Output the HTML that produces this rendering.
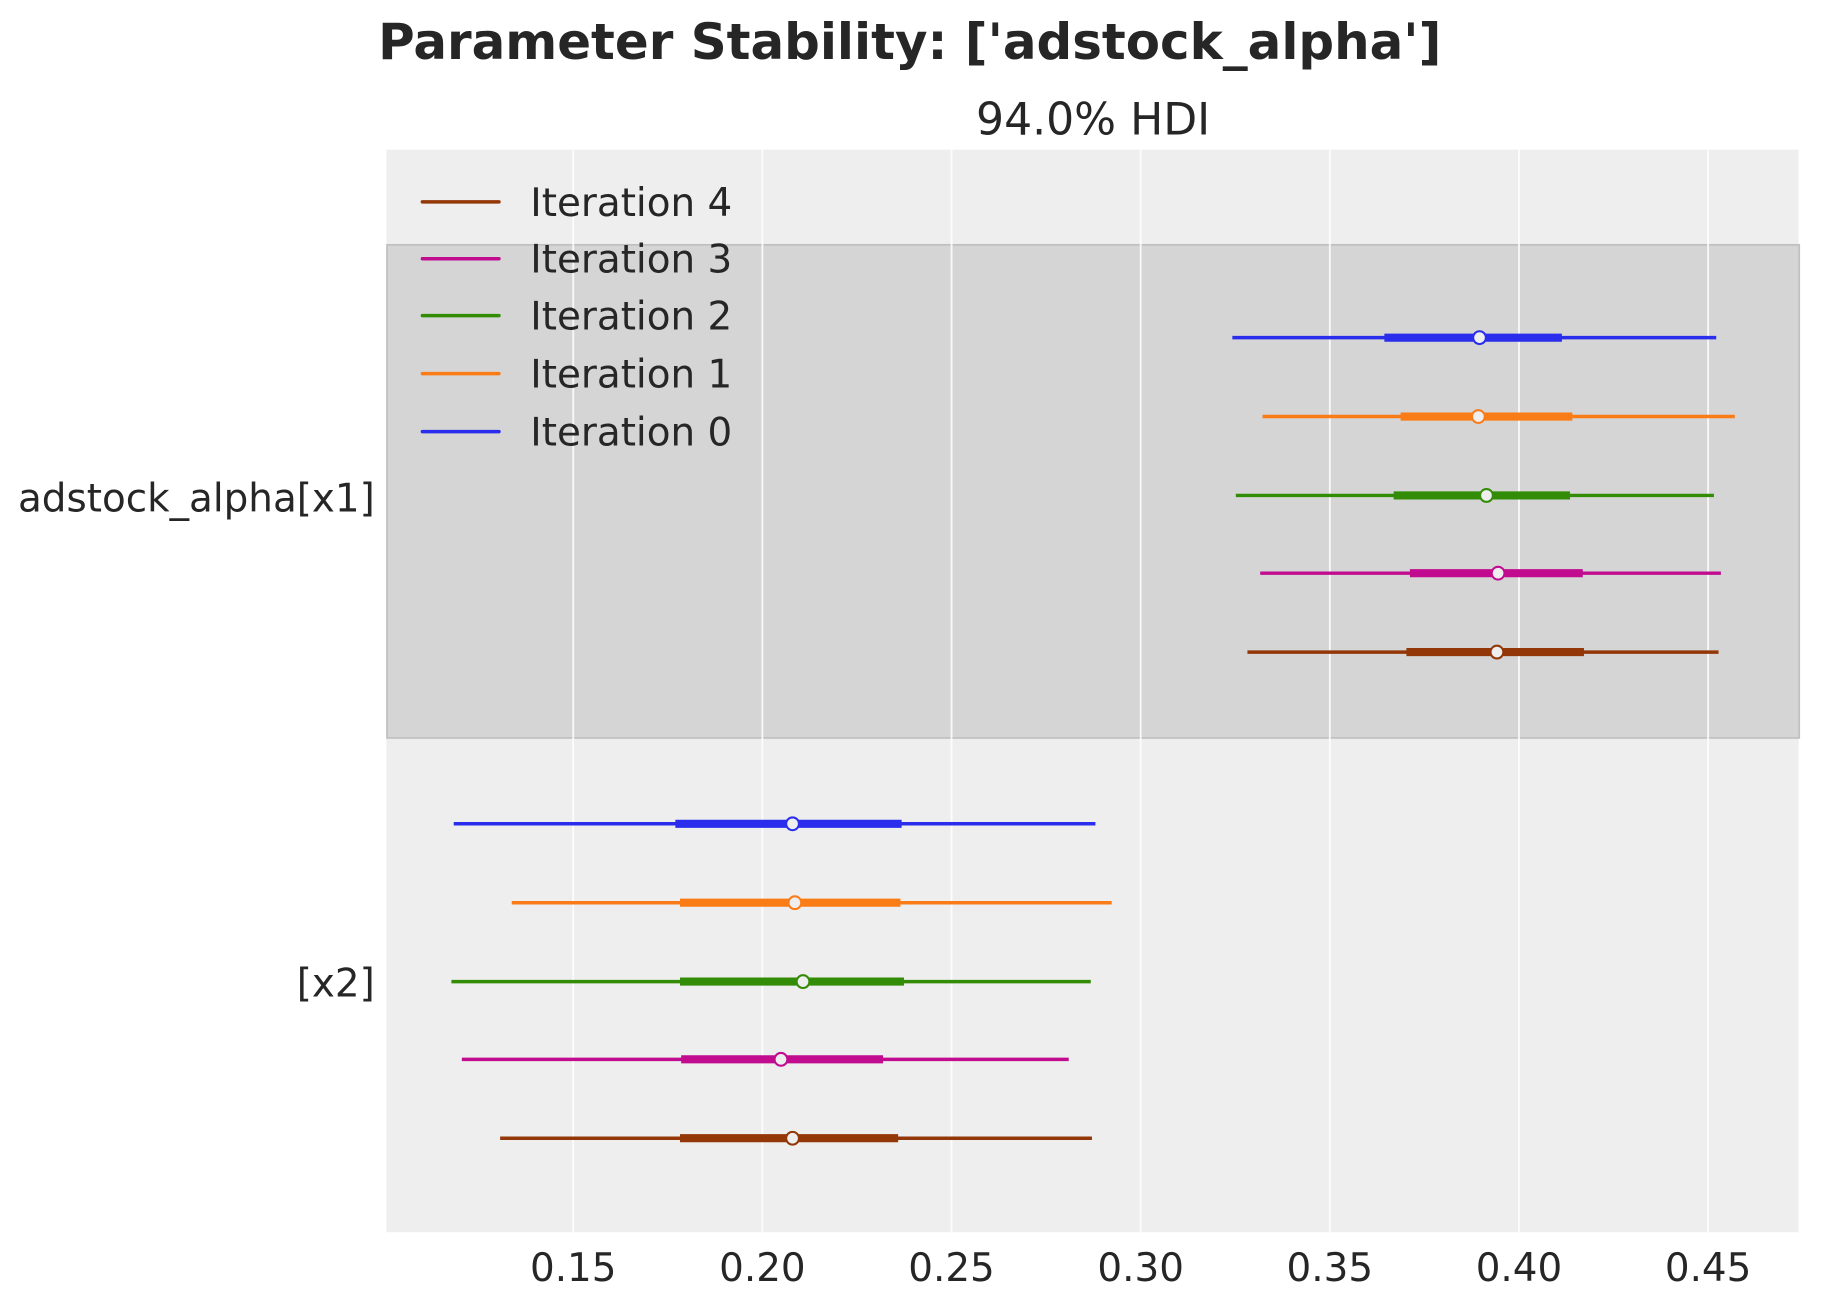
<!DOCTYPE html>
<html><head><meta charset="utf-8"><style>html,body{margin:0;padding:0;background:#fff}svg{display:block}</style></head>
<body>
<svg width="1823" height="1303" viewBox="0 0 1571 1123" preserveAspectRatio="none" xmlns="http://www.w3.org/2000/svg" font-family="DejaVu Sans, Liberation Sans, sans-serif" fill="#262626">
<rect x="333" y="129" width="1217" height="933" fill="#eeeeee"/>
<rect x="333.5" y="211" width="1217" height="425" fill="#d5d5d5" stroke="#c0c0c0" stroke-width="1.5"/>
<g stroke="#ffffff" stroke-width="1.6" opacity="0.85">
<line x1="494" y1="129" x2="494" y2="1062"/><line x1="657" y1="129" x2="657" y2="1062"/><line x1="820" y1="129" x2="820" y2="1062"/><line x1="983" y1="129" x2="983" y2="1062"/><line x1="1146" y1="129" x2="1146" y2="1062"/><line x1="1309" y1="129" x2="1309" y2="1062"/><line x1="1472" y1="129" x2="1472" y2="1062"/>
</g>
<g stroke-linecap="butt">
<g stroke="#2a2eec"><line x1="1062" y1="291" x2="1479" y2="291" stroke-width="3"/><line x1="1193" y1="291" x2="1346" y2="291" stroke-width="7"/><circle cx="1275" cy="291" r="5.5" fill="#eee" stroke-width="1.8"/></g>
<g stroke="#fa7c17"><line x1="1088" y1="359" x2="1495" y2="359" stroke-width="3"/><line x1="1207" y1="359" x2="1355" y2="359" stroke-width="7"/><circle cx="1274" cy="359" r="5.5" fill="#eee" stroke-width="1.8"/></g>
<g stroke="#328c06"><line x1="1065" y1="427" x2="1477" y2="427" stroke-width="3"/><line x1="1201" y1="427" x2="1353" y2="427" stroke-width="7"/><circle cx="1281" cy="427" r="5.5" fill="#eee" stroke-width="1.8"/></g>
<g stroke="#c10c90"><line x1="1086" y1="494" x2="1483" y2="494" stroke-width="3"/><line x1="1215" y1="494" x2="1364" y2="494" stroke-width="7"/><circle cx="1291" cy="494" r="5.5" fill="#eee" stroke-width="1.8"/></g>
<g stroke="#933708"><line x1="1075" y1="562" x2="1481" y2="562" stroke-width="3"/><line x1="1212" y1="562" x2="1365" y2="562" stroke-width="7"/><circle cx="1290" cy="562" r="5.5" fill="#eee" stroke-width="1.8"/></g>
<g stroke="#2a2eec"><line x1="391" y1="710" x2="944" y2="710" stroke-width="3"/><line x1="582" y1="710" x2="777" y2="710" stroke-width="7"/><circle cx="683" cy="710" r="5.5" fill="#eee" stroke-width="1.8"/></g>
<g stroke="#fa7c17"><line x1="441" y1="778" x2="958" y2="778" stroke-width="3"/><line x1="586" y1="778" x2="776" y2="778" stroke-width="7"/><circle cx="685" cy="778" r="5.5" fill="#eee" stroke-width="1.8"/></g>
<g stroke="#328c06"><line x1="389" y1="846" x2="940" y2="846" stroke-width="3"/><line x1="586" y1="846" x2="779" y2="846" stroke-width="7"/><circle cx="692" cy="846" r="5.5" fill="#eee" stroke-width="1.8"/></g>
<g stroke="#c10c90"><line x1="398" y1="913" x2="921" y2="913" stroke-width="3"/><line x1="587" y1="913" x2="761" y2="913" stroke-width="7"/><circle cx="673" cy="913" r="5.5" fill="#eee" stroke-width="1.8"/></g>
<g stroke="#933708"><line x1="431" y1="981" x2="941" y2="981" stroke-width="3"/><line x1="586" y1="981" x2="774" y2="981" stroke-width="7"/><circle cx="683" cy="981" r="5.5" fill="#eee" stroke-width="1.8"/></g>
</g>
<g stroke-width="3" stroke-linecap="round">
<line x1="364" y1="174" x2="430" y2="174" stroke="#933708"/>
<line x1="364" y1="223" x2="430" y2="223" stroke="#c10c90"/>
<line x1="364" y1="272" x2="430" y2="272" stroke="#328c06"/>
<line x1="364" y1="322" x2="430" y2="322" stroke="#fa7c17"/>
<line x1="364" y1="372" x2="430" y2="372" stroke="#2a2eec"/>
</g>
<g font-size="33.5">
<text x="457" y="186">Iteration 4</text>
<text x="457" y="235">Iteration 3</text>
<text x="457" y="284">Iteration 2</text>
<text x="457" y="334">Iteration 1</text>
<text x="457" y="384">Iteration 0</text>
</g>
<text x="784" y="51" font-size="43" font-weight="bold" text-anchor="middle">Parameter Stability: ['adstock_alpha']</text>
<text x="942" y="116" font-size="38" text-anchor="middle">94.0% HDI</text>
<g font-size="33.5" text-anchor="end">
<text x="323" y="441">adstock_alpha[x1]</text>
<text x="323" y="859">[x2]</text>
</g>
<g font-size="33.5" text-anchor="middle">
<text x="494" y="1104">0.15</text><text x="657" y="1104">0.20</text><text x="820" y="1104">0.25</text><text x="983" y="1104">0.30</text><text x="1146" y="1104">0.35</text><text x="1309" y="1104">0.40</text><text x="1472" y="1104">0.45</text>
</g>
</svg>
</body></html>
